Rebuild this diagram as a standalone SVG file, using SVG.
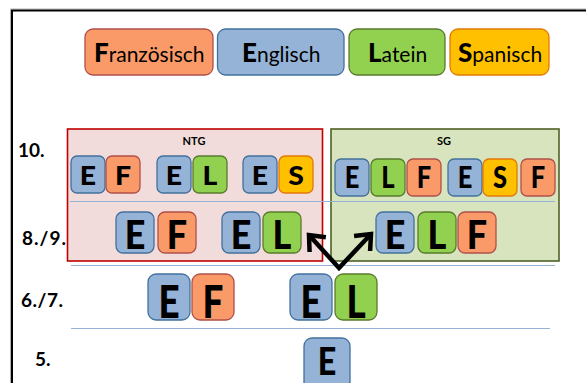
<svg xmlns="http://www.w3.org/2000/svg" width="586" height="383" viewBox="0 0 586 383">
<style>
.bg{fill:#ffffff}
.tE{fill:#95b3d7;stroke:#41719c;stroke-width:1.3}
.tF{fill:#fa9a68;stroke:#b0504a;stroke-width:1.3}
.tL{fill:#92d050;stroke:#5a7a2e;stroke-width:1.3}
.tS{fill:#ffc000;stroke:#e3780a;stroke-width:1.3}
.lt{font-family:Lato,"Liberation Sans",sans-serif;font-weight:900;fill:#000;text-anchor:middle}
.leg{font-family:Lato,"Liberation Sans",sans-serif;font-size:21px;fill:#000}
.leg .b{font-weight:900;font-size:26px}
.row{font-family:Lato,"Liberation Sans",sans-serif;font-weight:bold;font-size:19px;fill:#000}
.hdr{font-family:Lato,"Liberation Sans",sans-serif;font-weight:bold;font-size:11px;fill:#000;text-anchor:middle}
.sep{stroke:#95b3d7;stroke-width:1.2;fill:none}
.arr{stroke:#000;stroke-width:4.5;fill:none;stroke-linejoin:miter}
</style>
<defs>
<marker id="head" markerUnits="userSpaceOnUse" viewBox="-20 -16 26 32" refX="0" refY="0" markerWidth="26" markerHeight="32" orient="auto-start-reverse">
<path d="M-13,-11 L0,0 L-13,11" stroke="#000" stroke-width="4.5" fill="none" stroke-linejoin="miter"/>
</marker>
</defs>
<rect class="bg" x="0" y="0" width="586" height="383"/>
<g id="frame">
<path d="M10.5,383 V9 H586" stroke="#b0b0b0" stroke-width="1" fill="none"/>
<path d="M12,383 V10.5 H586" stroke="#000" stroke-width="2" fill="none"/>
</g>
<g id="legend">
<g id="leg-F"><rect class="tF" x="85" y="29" width="128" height="46" rx="8"/><text class="leg" x="94" y="62"><tspan class="b">F</tspan>ranzösisch</text></g>
<g id="leg-E"><rect class="tE" x="217.5" y="29" width="126.5" height="46" rx="8"/><text class="leg" x="242" y="62"><tspan class="b">E</tspan>nglisch</text></g>
<g id="leg-L"><rect class="tL" x="349" y="29" width="96" height="46" rx="8"/><text class="leg" x="368" y="62"><tspan class="b">L</tspan>atein</text></g>
<g id="leg-S"><rect class="tS" x="450" y="29" width="99" height="46" rx="8"/><text class="leg" x="458" y="62"><tspan class="b">S</tspan>panisch</text></g>
</g>
<g id="labels">
<text class="row" x="18" y="157">10.</text>
<text class="row" x="22" y="245" letter-spacing="1">8./9.</text>
<text class="row" x="21" y="307" letter-spacing="0.5">6./7.</text>
<text class="row" x="35" y="366">5.</text>
</g>
<g id="NTG">
<rect x="67.5" y="129" width="255" height="132" fill="#f2dcdb" stroke="#c00000" stroke-width="1.6"/>
<text class="hdr" x="194" y="145">NTG</text>
</g>
<g id="SG">
<rect x="331" y="129" width="228" height="132" fill="#d7e4bd" stroke="#4f6228" stroke-width="1.6"/>
<text class="hdr" x="444" y="145">SG</text>
</g>
<g id="separators">
<line class="sep" x1="70" y1="201.5" x2="555" y2="201.5"/>
<line class="sep" x1="71" y1="265.5" x2="555" y2="265.5"/>
<line class="sep" x1="71" y1="328.5" x2="550" y2="328.5"/>
</g>
<g id="ntg10">
<g id="n10-EF">
<rect class="tE" x="71" y="156" width="34" height="37" rx="6"/><text class="lt" font-size="27" transform="translate(88,185) scale(1.05,1)">E</text>
<rect class="tF" x="106" y="156" width="34" height="37" rx="6"/><text class="lt" font-size="27" transform="translate(123,185) scale(1.05,1)">F</text>
</g>
<g id="n10-EL">
<rect class="tE" x="157" y="156" width="34" height="37" rx="6"/><text class="lt" font-size="27" transform="translate(174,185) scale(1.05,1)">E</text>
<rect class="tL" x="193" y="156" width="34" height="37" rx="6"/><text class="lt" font-size="27" transform="translate(210,185) scale(1.05,1)">L</text>
</g>
<g id="n10-ES">
<rect class="tE" x="243" y="156" width="34" height="37" rx="6"/><text class="lt" font-size="27" transform="translate(260,185) scale(1.05,1)">E</text>
<rect class="tS" x="279" y="156" width="34" height="37" rx="6"/><text class="lt" font-size="27" transform="translate(296,185) scale(1.05,1)">S</text>
</g>
</g>
<g id="sg10">
<g id="s10-ELF">
<rect class="tE" x="335" y="159" width="34" height="37" rx="6"/><text class="lt" font-size="30" transform="translate(352,188) scale(0.85,1)">E</text>
<rect class="tL" x="371" y="159" width="34" height="37" rx="6"/><text class="lt" font-size="30" transform="translate(388,188) scale(0.85,1)">L</text>
<rect class="tF" x="407" y="159" width="34" height="37" rx="6"/><text class="lt" font-size="30" transform="translate(424,188) scale(0.85,1)">F</text>
</g>
<g id="s10-ESF">
<rect class="tE" x="448" y="159" width="34" height="37" rx="6"/><text class="lt" font-size="30" transform="translate(465,188) scale(0.85,1)">E</text>
<rect class="tS" x="483" y="159" width="34" height="37" rx="6"/><text class="lt" font-size="30" transform="translate(500,188) scale(0.85,1)">S</text>
<rect class="tF" x="521" y="159" width="34" height="37" rx="6"/><text class="lt" font-size="30" transform="translate(538,188) scale(0.85,1)">F</text>
</g>
</g>
<g id="ntg89">
<g id="n89-EF">
<rect class="tE" x="116" y="212" width="38" height="41" rx="7"/><text class="lt" font-size="40" transform="translate(135,249) scale(0.9,1)">E</text>
<rect class="tF" x="158" y="212" width="38" height="41" rx="7"/><text class="lt" font-size="40" transform="translate(177,249) scale(0.9,1)">F</text>
</g>
<g id="n89-EL">
<rect class="tE" x="222" y="212" width="38" height="41" rx="7"/><text class="lt" font-size="40" transform="translate(241,249) scale(0.9,1)">E</text>
<rect class="tL" x="263" y="212" width="38" height="41" rx="7"/><text class="lt" font-size="40" transform="translate(282,249) scale(0.9,1)">L</text>
</g>
</g>
<g id="sg89">
<rect class="tE" x="376" y="212" width="38" height="41" rx="7"/><text class="lt" font-size="40" transform="translate(395,249) scale(0.9,1)">E</text>
<rect class="tL" x="418" y="212" width="38" height="41" rx="7"/><text class="lt" font-size="40" transform="translate(437,249) scale(0.9,1)">L</text>
<rect class="tF" x="458" y="212" width="38" height="41" rx="7"/><text class="lt" font-size="40" transform="translate(477,249) scale(0.9,1)">F</text>
</g>
<g id="r67-EF">
<rect class="tE" x="148" y="274" width="42" height="46" rx="8"/><text class="lt" font-size="46" transform="translate(169,318) scale(0.8,1)">E</text>
<rect class="tF" x="192" y="274" width="42" height="46" rx="8"/><text class="lt" font-size="46" transform="translate(213,318) scale(0.8,1)">F</text>
</g>
<g id="r67-EL">
<rect class="tE" x="290" y="274" width="42" height="46" rx="8"/><text class="lt" font-size="46" transform="translate(311,318) scale(0.8,1)">E</text>
<rect class="tL" x="335" y="274" width="42" height="46" rx="8"/><text class="lt" font-size="46" transform="translate(356,318) scale(0.8,1)">L</text>
</g>
<g id="r5-E">
<rect class="tE" x="304" y="338" width="46" height="52" rx="8"/><text class="lt" font-size="38" transform="translate(327,375) scale(0.85,1)">E</text>
</g>
<g id="connectors">
<path class="arr" d="M309,235 L339,268 L371,234" marker-start="url(#head)" marker-end="url(#head)"/>
</g>
</svg>
